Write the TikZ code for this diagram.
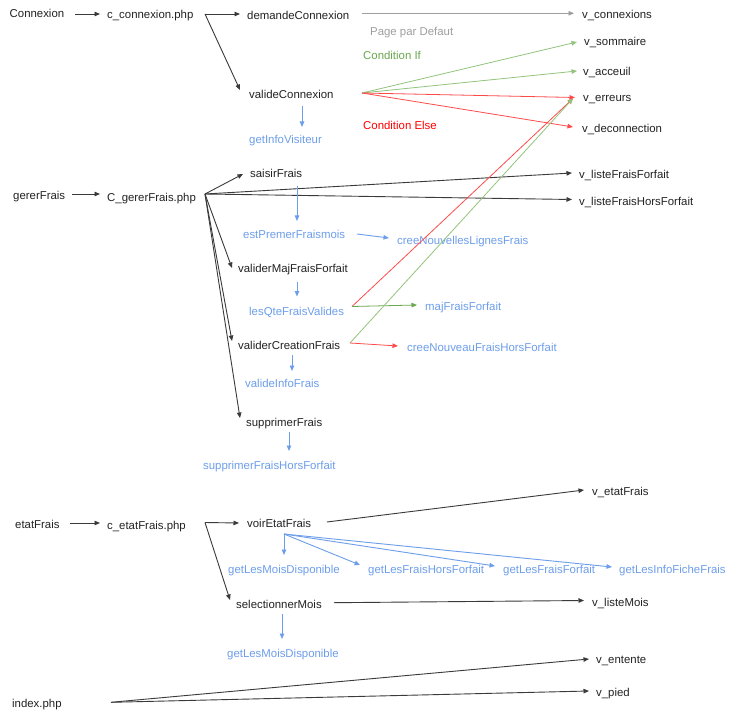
\documentclass[tikz,border=0pt]{standalone}
\usepackage{fontspec}
\setmainfont{Liberation Sans}
\usetikzlibrary{arrows.meta}

\definecolor{ink}{HTML}{222222}
\definecolor{wire}{HTML}{3A3A3A}
\definecolor{blu}{HTML}{6D9EEB}
\definecolor{grn}{HTML}{6AA84F}
\definecolor{lgrn}{HTML}{93C47D}
\definecolor{rd}{HTML}{FF0000}
\definecolor{lrd}{HTML}{FF4A4A}
\definecolor{gry}{HTML}{9E9E9E}

\tikzset{
  lbl/.style={anchor=base west, inner sep=0pt, text=ink,
              font=\fontsize{11.4}{13}\selectfont},
  fn/.style={lbl, text=blu},
  tip/.style={-{Triangle[length=5.5pt,width=4.5pt]}},
  blk/.style={tip, draw=wire, line width=0.9pt},
  bl/.style={tip, draw=blu, line width=0.9pt},
  gn/.style={tip, draw=lgrn, line width=0.8pt},
  gnd/.style={tip, draw=grn, line width=0.8pt},
  rdl/.style={tip, draw=lrd, line width=0.8pt},
  gyl/.style={tip, draw=gry, line width=0.8pt},
}

\begin{document}
\begin{tikzpicture}[x=1pt,y=-1pt]
\useasboundingbox[fill=white] (0,0) rectangle (741,719);

% ---------- Connexion ----------
\node[lbl] (cx)   at (9.5,17.5)  {Connexion};
\node[lbl] (ccx)  at (107,18.3)  {c\_connexion.php};
\node[lbl] (dcx)  at (247,19.3)  {demandeConnexion};
\node[lbl] (vcx)  at (249,98.7)  {valideConnexion};
\node[fn]  (giv)  at (249,144)   {getInfoVisiteur};
\node[lbl] (vco)  at (582,19)    {v\_connexions};
\node[lbl, text=gry] (ppd) at (370,36) {Page par Defaut};
\node[lbl, text=grn] (cif) at (363,60) {Condition If};
\node[lbl, text=rd]  (cel) at (363,129.3) {Condition Else};
\node[lbl] (vso)  at (584,46)    {v\_sommaire};
\node[lbl] (vac)  at (583,75.7)  {v\_acceuil};
\node[lbl] (ver)  at (583,102)   {v\_erreurs};
\node[lbl] (vde)  at (582,133)   {v\_deconnection};

\coordinate (cx-o)  at (75,14);
\coordinate (ccx-i) at (100,14);
\coordinate (ccx-o) at (205,14);
\coordinate (dcx-i) at (240,14);
\coordinate (vcx-i) at (240,90);
\coordinate (dcx-o) at (362,13.3);
\coordinate (vco-i) at (574,13.3);
\coordinate (vcx-o) at (362,93);
\coordinate (vso-i) at (577,42);
\coordinate (vac-i) at (577,71);
\coordinate (ver-i) at (575,97.5);
\coordinate (vde-i) at (573,127);
\coordinate (vcx-d) at (302,106);
\coordinate (giv-u) at (302,127);

\draw[blk] (cx-o) -- (ccx-i);
\draw[blk] (ccx-o) -- (dcx-i);
\draw[blk] (ccx-o) -- (vcx-i);
\draw[gyl] (dcx-o) -- (vco-i);
\draw[gn]  (vcx-o) -- (vso-i);
\draw[gn]  (vcx-o) -- (vac-i);
\draw[rdl] (vcx-o) -- (ver-i);
\draw[rdl] (vcx-o) -- (vde-i);
\draw[bl]  (vcx-d) -- (giv-u);

% ---------- gererFrais ----------
\node[lbl] (gf)   at (13,199.3)  {gererFrais};
\node[lbl] (cgf)  at (107,202)   {C\_gererFrais.php};
\node[lbl] (sf)   at (250,177.3) {saisirFrais};
\node[fn]  (epf)  at (243,238.3) {estPremerFraismois};
\node[fn]  (cnl)  at (397,245)   {creeNouvellesLignesFrais};
\node[lbl] (vmf)  at (238,272.7) {validerMajFraisForfait};
\node[fn]  (lqf)  at (249,315.7) {lesQteFraisValides};
\node[fn]  (mff)  at (425,310.3) {majFraisForfait};
\node[lbl] (vcf)  at (238,349.3) {validerCreationFrais};
\node[fn]  (cnf)  at (407,351)   {creeNouveauFraisHorsForfait};
\node[fn]  (vif)  at (245,387.3) {valideInfoFrais};
\node[lbl] (spf)  at (246,426)   {supprimerFrais};
\node[fn]  (sfh)  at (203,469)   {supprimerFraisHorsForfait};
\node[lbl] (vlf)  at (579,178.3) {v\_listeFraisForfait};
\node[lbl] (vlh)  at (579,205.3) {v\_listeFraisHorsForfait};

\coordinate (gf-o)  at (72,194);
\coordinate (cgf-i) at (100,194);
\coordinate (cgf-o) at (205,194);
\coordinate (sf-i)  at (243,174);
\coordinate (vlf-i) at (572,173);
\coordinate (vlh-i) at (572,199.5);
\coordinate (vmf-i) at (232,268);
\coordinate (vcf-i) at (232,341);
\coordinate (spf-i) at (240,418);
\coordinate (sf-d)  at (297,186);
\coordinate (epf-u) at (297,221);
\coordinate (epf-o) at (357,234);
\coordinate (cnl-i) at (389,238);
\coordinate (vmf-d) at (297,282);
\coordinate (lqf-u) at (297,296.5);
\coordinate (lqf-o) at (352,306.5);
\coordinate (mff-i) at (417,305);
\coordinate (ver-j) at (573,98.5);
\coordinate (vcf-o) at (350,343);
\coordinate (cnf-i) at (398,346);
\coordinate (vcf-d) at (292,355);
\coordinate (vif-u) at (292,371);
\coordinate (spf-d) at (289,432);
\coordinate (sfh-u) at (289,451);

\draw[blk] (gf-o) -- (cgf-i);
\draw[blk] (cgf-o) -- (sf-i);
\draw[blk] (cgf-o) -- (vlf-i);
\draw[blk] (cgf-o) -- (vlh-i);
\draw[blk] (cgf-o) -- (vmf-i);
\draw[blk] (cgf-o) -- (vcf-i);
\draw[blk] (cgf-o) -- (spf-i);
\draw[bl]  (sf-d) -- (epf-u);
\draw[bl]  (epf-o) -- (cnl-i);
\draw[bl]  (vmf-d) -- (lqf-u);
\draw[rdl] (lqf-o) -- (ver-j);
\draw[gnd] (lqf-o) -- (mff-i);
\draw[gn]  (vcf-o) -- (ver-j);
\draw[rdl] (vcf-o) -- (cnf-i);
\draw[bl]  (vcf-d) -- (vif-u);
\draw[bl]  (spf-d) -- (sfh-u);

% ---------- etatFrais ----------
\node[lbl] (ef)   at (15,528.3)  {etatFrais};
\node[lbl] (cef)  at (107,529.7) {c\_etatFrais.php};
\node[lbl] (vef)  at (247,527.3) {voirEtatFrais};
\node[lbl] (vet)  at (592,495)   {v\_etatFrais};
\node[fn]  (gmd)  at (228,573.3) {getLesMoisDisponible};
\node[fn]  (gfh)  at (368,573.3) {getLesFraisHorsForfait};
\node[fn]  (gff)  at (503,573)   {getLesFraisForfait};
\node[fn]  (gif)  at (619,573)   {getLesInfoFicheFrais};
\node[lbl] (sm)   at (236,608.7) {selectionnerMois};
\node[lbl] (vlm)  at (592,606)   {v\_listeMois};
\node[fn]  (gmd2) at (227,657)   {getLesMoisDisponible};

\coordinate (ef-o)  at (70,523);
\coordinate (cef-i) at (100,523);
\coordinate (cef-o) at (205,522.5);
\coordinate (vef-i) at (239,523);
\coordinate (sm-i)  at (230,600);
\coordinate (vef-o) at (327,522);
\coordinate (vet-i) at (584,490);
\coordinate (vef-d) at (284,534);
\coordinate (gmd-u) at (284,555);
\coordinate (gfh-i) at (360,565);
\coordinate (gff-i) at (495,566);
\coordinate (gif-i) at (612,567);
\coordinate (sm-o)  at (334,602.7);
\coordinate (vlm-i) at (584,600.5);
\coordinate (sm-d)  at (282,614);
\coordinate (gmd2-u) at (282,639);

\draw[blk] (ef-o) -- (cef-i);
\draw[blk] (cef-o) -- (vef-i);
\draw[blk] (cef-o) -- (sm-i);
\draw[blk] (vef-o) -- (vet-i);
\draw[bl]  (vef-d) -- (gmd-u);
\draw[bl]  (vef-d) -- (gfh-i);
\draw[bl]  (vef-d) -- (gff-i);
\draw[bl]  (vef-d) -- (gif-i);
\draw[blk] (sm-o) -- (vlm-i);
\draw[bl]  (sm-d) -- (gmd2-u);

% ---------- index.php ----------
\node[lbl] (ix)  at (12,707.3)  {index.php};
\node[lbl] (ven) at (596,663.3) {v\_entente};
\node[lbl] (vpi) at (596,696.7) {v\_pied};

\coordinate (ix-o)  at (111,702.3);
\coordinate (ven-i) at (589,659);
\coordinate (vpi-i) at (589,691);

\draw[blk] (ix-o) -- (ven-i);
\draw[blk] (ix-o) -- (vpi-i);
\end{tikzpicture}
\end{document}
